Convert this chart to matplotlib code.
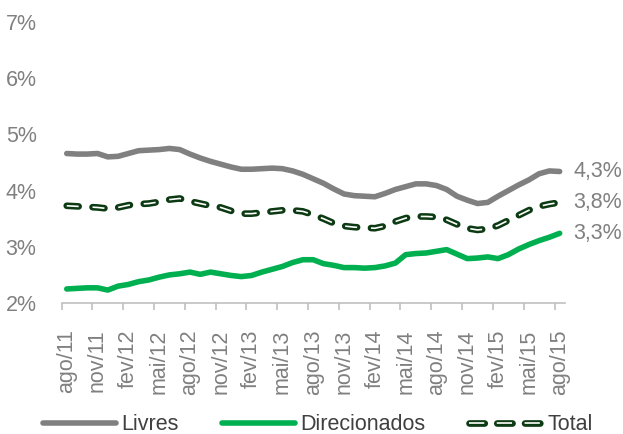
import matplotlib
matplotlib.use("Agg")
import matplotlib.pyplot as plt
from matplotlib.lines import Line2D
from matplotlib.legend_handler import HandlerTuple

plt.rcParams['font.family'] = ['Liberation Sans', 'DejaVu Sans']
plt.rcParams['lines.scale_dashes'] = False

tick_labels = ['ago/11', 'nov/11', 'fev/12', 'mai/12', 'ago/12', 'nov/12', 'fev/13',
               'mai/13', 'ago/13', 'nov/13', 'fev/14', 'mai/14', 'ago/14', 'nov/14',
               'fev/15', 'mai/15', 'ago/15']

livres = [4.66, 4.65, 4.65, 4.66, 4.60, 4.61, 4.66, 4.71, 4.72, 4.73, 4.75, 4.73,
          4.65, 4.58, 4.52, 4.47, 4.42, 4.38, 4.38, 4.39, 4.40, 4.39, 4.35, 4.29,
          4.21, 4.13, 4.03, 3.94, 3.91, 3.90, 3.89, 3.95, 4.02, 4.07, 4.12, 4.12,
          4.09, 4.02, 3.90, 3.83, 3.77, 3.79, 3.90, 4.00, 4.10, 4.19, 4.30, 4.35, 4.34]

direcionados = [2.25, 2.26, 2.27, 2.27, 2.23, 2.30, 2.33, 2.38, 2.41, 2.46, 2.50, 2.52,
                2.55, 2.51, 2.55, 2.52, 2.49, 2.47, 2.49, 2.55, 2.60, 2.65, 2.72, 2.77,
                2.77, 2.70, 2.67, 2.63, 2.63, 2.62, 2.63, 2.66, 2.71, 2.86, 2.88, 2.89,
                2.92, 2.95, 2.87, 2.79, 2.80, 2.82, 2.79, 2.86, 2.96, 3.04, 3.11, 3.17, 3.24]

total = [3.73, 3.72, 3.71, 3.70, 3.68, 3.70, 3.74, 3.76, 3.77, 3.80, 3.84, 3.86,
         3.81, 3.77, 3.73, 3.70, 3.64, 3.59, 3.59, 3.61, 3.63, 3.65, 3.65, 3.63,
         3.57, 3.50, 3.42, 3.37, 3.35, 3.34, 3.33, 3.37, 3.45, 3.51, 3.54, 3.54,
         3.53, 3.48, 3.40, 3.33, 3.30, 3.32, 3.38, 3.47, 3.56, 3.65, 3.72, 3.76, 3.79]

end_labels = ['4,3%', '3,8%', '3,3%']
y_ticks = [2, 3, 4, 5, 6, 7]

GRAY = '#808080'
GREEN = '#00b050'
DARK = '#0c3a12'
TXT = '#808080'
FS = 15.5

fig = plt.figure(figsize=(6.23, 4.34), dpi=100)
ax = fig.add_axes([61.6 / 623, 131 / 434, (564.8 - 61.6) / 623, (412 - 131) / 434])

x = list(range(len(livres)))
l1, = ax.plot(x, livres, color=GRAY, lw=4.0, solid_capstyle='round', solid_joinstyle='round')
l2, = ax.plot(x, direcionados, color=GREEN, lw=4.0, solid_capstyle='round', solid_joinstyle='round')
ax.plot(x, total, color=DARK, lw=4.8, linestyle=(0, (8.6, 10.0)), dash_capstyle='round')
ax.plot(x, total, color='white', lw=1.2, linestyle=(0, (8.6, 10.0)), dash_capstyle='butt')

# legend proxies for the double dashed line
p_outer = Line2D([], [], color=DARK, lw=4.8, linestyle=(0, (11.0, 9.0)), dash_capstyle='round')
p_inner = Line2D([], [], color='white', lw=1.2, linestyle=(0, (11.0, 9.0)), dash_capstyle='butt')

ax.set_xlim(-0.5, len(x) - 0.5)
ax.set_ylim(2, 7)
ax.set_yticks(y_ticks)
ax.set_yticklabels([f'{v}%' for v in y_ticks])

pos = list(range(0, len(x), 3))
ax.set_xticks(pos)
ax.set_xticklabels(tick_labels, rotation=90)
ax.set_xticks([p - 0.5 for p in pos], minor=True)
ax.tick_params(axis='x', which='major', length=0, pad=19, labelsize=FS, colors=TXT)
ax.tick_params(axis='x', which='minor', length=5, width=1.2, color='#c0c0c0')
ax.tick_params(axis='y', length=0, pad=18, labelsize=FS, colors=TXT)

for s in ['top', 'right', 'left']:
    ax.spines[s].set_visible(False)
ax.spines['bottom'].set_color('#c0c0c0')
ax.spines['bottom'].set_linewidth(1.2)

end_y = {'4,3%': livres[-1], '3,8%': total[-1], '3,3%': direcionados[-1]}
for lab in end_labels:
    ax.annotate(lab, xy=(x[-1], end_y[lab]), xytext=(10, 0), textcoords='offset points',
                va='center', ha='left', fontsize=FS, color=TXT, annotation_clip=False)

leg = fig.legend([l1, l2, (p_outer, p_inner)], ['Livres', 'Direcionados', 'Total'],
                 handler_map={tuple: HandlerTuple(ndivide=1, pad=0)},
                 loc='center', bbox_to_anchor=(0.51, 1 - 425 / 434), ncol=3, frameon=False,
                 fontsize=FS, handlelength=3.4, handletextpad=0.25, columnspacing=2.0,
                 borderaxespad=0, borderpad=0)
for t in leg.get_texts():
    t.set_color('#404040')

fig.savefig('out.png', dpi=100)
